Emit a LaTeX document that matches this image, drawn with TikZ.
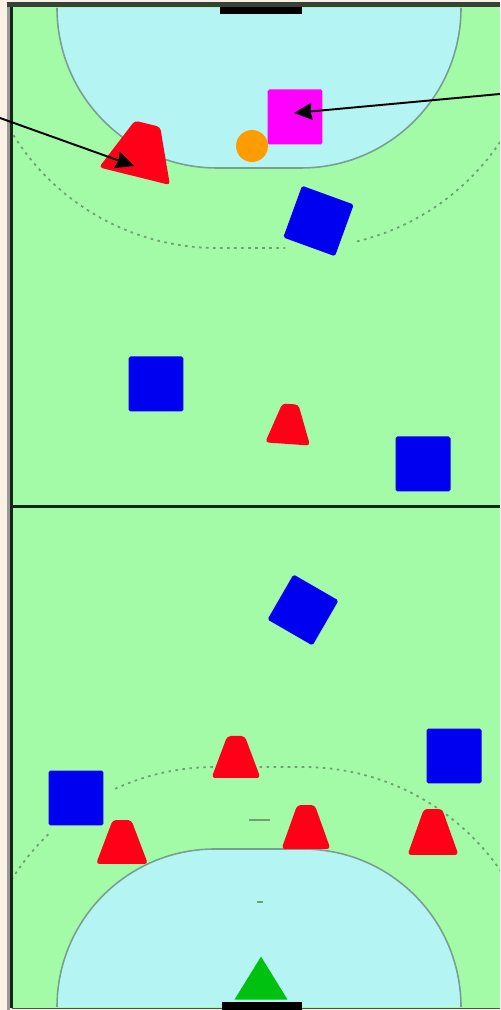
\documentclass[tikz,border=0pt]{standalone}
\usepackage{xcolor}
\usetikzlibrary{shapes.geometric, arrows.meta}
\definecolor{paper}{RGB}{250,240,228}
\definecolor{court}{RGB}{163,251,168}
\definecolor{zone}{RGB}{180,245,244}
\definecolor{zoneline}{RGB}{120,160,145}
\definecolor{dotline}{RGB}{110,160,115}
\definecolor{frameline}{RGB}{20,40,25}
\definecolor{defender}{RGB}{0,0,240}
\definecolor{attacker}{RGB}{255,0,24}
\definecolor{shooter}{RGB}{255,0,255}
\definecolor{keeper}{RGB}{0,192,16}
\definecolor{ball}{RGB}{255,156,0}

\begin{document}
\begin{tikzpicture}[
  x=0.02cm, y=0.02cm,
  squarebox/.style={rectangle, draw=none, fill=#1, inner sep=0pt, outer sep=0pt,
    minimum size=1.1cm, rounded corners=1pt},
  conebox/.style={trapezium, trapezium stretches=true, trapezium left angle=48,
    trapezium right angle=48, fill=attacker, inner sep=0pt, outer sep=0pt,
    text width=1pt, text height=1pt, text depth=0pt,
    rounded corners=2pt, minimum width=0.98cm, minimum height=0.84cm},
  goalbar/.style={fill=black, draw=none},
  arealine/.style={draw=zoneline, line width=0.9pt, fill=zone},
  dotarc/.style={draw=dotline, line width=1pt, dash pattern=on 1.5pt off 2.5pt},
  arrow/.style={-{Stealth[length=0.36cm, width=0.34cm, inset=0.03cm]}, line width=1.1pt, black}
]
\useasboundingbox (0,0) rectangle (500,1010);
\fill[paper] (0,0) rectangle (500,1010);
\fill[court] (12,2) rectangle (500,1003);

% dotted arcs
\begin{scope}
\clip (12,2) rectangle (500,1003);
\draw[dotarc] (217,1002) ++(212:240) arc[start angle=212, end angle=270, radius=240]
  -- (285,762);
\draw[dotarc] (301,1002) ++(283.5:240) arc[start angle=283.5, end angle=340, radius=240];
\draw[dotarc] (215,3) ++(148:240) arc[start angle=148, end angle=133.5, radius=240];
\draw[dotarc] (215,3) ++(114.6:240) arc[start angle=114.6, end angle=90, radius=240]
  -- (303,243) arc[start angle=90, end angle=20, radius=240];
\end{scope}

% goal areas
\draw[arealine] (57,1002) arc[start angle=180, end angle=270, radius=160]
  -- (301,842) arc[start angle=270, end angle=360, radius=160];
\draw[arealine] (57,3) arc[start angle=180, end angle=90, radius=158]
  -- (303,161) arc[start angle=90, end angle=0, radius=158];

% court lines
\draw[black!40, line width=1.6pt] (8.5,0) -- (8.5,1007);
\draw[frameline!70!gray, line width=2.4pt] (7,1005.5) -- (500,1005.5);
\draw[frameline, line width=1.5pt] (11.5,2) -- (11.5,1003);
\draw[frameline!50!gray, line width=0.8pt] (12,1.5) -- (500,1.5);
\draw[frameline, line width=2pt] (12,503.5) -- (500,503.5);
\draw[dotline, line width=0.8pt] (249,190) -- (270,190);
\draw[dotline, line width=0.8pt] (257,108) -- (263,108);
\fill[goalbar] (220,996) rectangle (302,1003);
\fill[goalbar] (222,0) rectangle (302,8);

% players
\node[squarebox=defender, rotate=-20] (backright) at (318.5,789) {};
\node[squarebox=defender] (wingleft) at (156,626) {};
\node[squarebox=defender] (wingright) at (423,546) {};
\node[squarebox=defender, rotate=-30, minimum size=1.04cm] (pivot) at (303,400) {};
\node[squarebox=defender] (cornerright) at (454,254) {};
\node[squarebox=defender] (cornerleft) at (76,212) {};
\node[squarebox=shooter] (target) at (295,893) {};
\node[circle, fill=ball, inner sep=0pt, outer sep=0pt, minimum size=0.64cm] (puck) at (252,864) {};

\node[conebox, rotate=-14, minimum width=1.46cm, minimum height=1.08cm] (screen) at (141,860) {};
\node[conebox, rotate=-4, minimum width=0.9cm, minimum height=0.8cm] (midcone) at (289,586) {};
\node[conebox] (conetop) at (236,253) {};
\node[conebox, minimum width=1.04cm, minimum height=0.88cm] (coneleft) at (122,168) {};
\node[conebox, minimum height=0.88cm] (conemid) at (306,183) {};
\node[conebox, minimum width=1.02cm, minimum height=0.92cm] (coneright) at (433,178) {};
\node[isosceles triangle, isosceles triangle apex angle=62, isosceles triangle stretches=true,
  shape border rotate=90, fill=keeper, inner sep=0pt, outer sep=0pt,
  text width=1pt, text height=1pt, text depth=0pt,
  minimum width=1.06cm, minimum height=0.86cm] (goalie) at (261,25) {};

% arrows
\coordinate (leftend) at (0,892);
\coordinate (rightend) at (500,916);
\draw[arrow] (leftend) -- ([shift={(-7,-16)}]screen.center);
\draw[arrow] (rightend) -- ([shift={(-1,4)}]target.center);
\end{tikzpicture}
\end{document}
